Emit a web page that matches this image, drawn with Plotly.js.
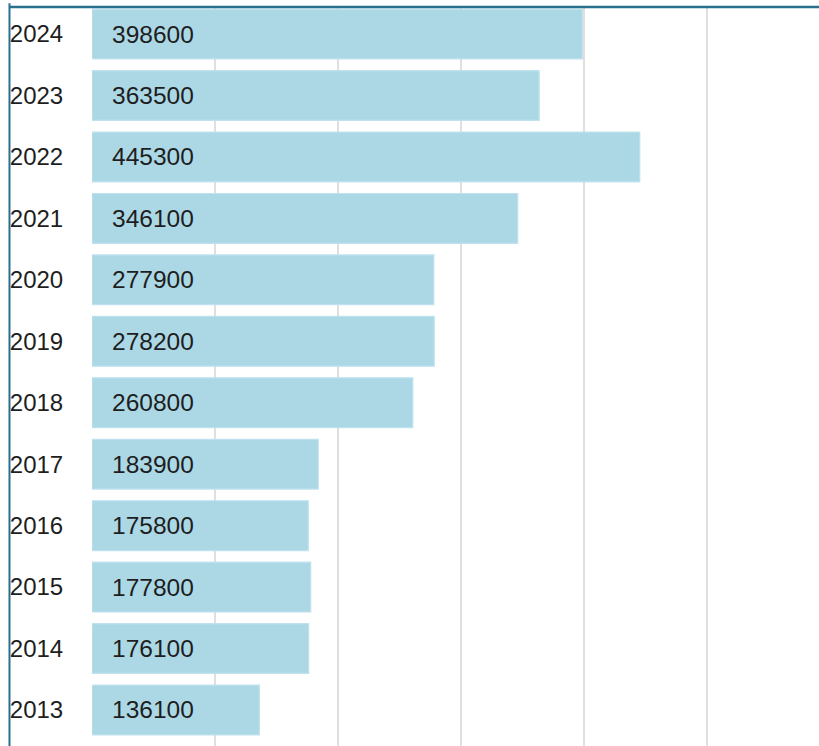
<!DOCTYPE html>
<html>
<head>
<meta charset="utf-8">
<script src="https://cdn.plot.ly/plotly-3.0.1.min.js"></script>
<style>
html,body{margin:0;padding:0;background:#fff;overflow:hidden;}
#chart{width:819px;height:746px;}
</style>
</head>
<body>
<div id="chart"></div>
<script>
const years = ['2013','2014','2015','2016','2017','2018','2019','2020','2021','2022','2023','2024'];
const values = [136100,176100,177800,175800,183900,260800,278200,277900,346100,445300,363500,398600];
const xTicks = [0,100000,200000,300000,400000,500000,600000];

const trace = {
  type: 'bar',
  orientation: 'h',
  y: years,
  x: values,
  marker: {color: '#acd8e6', line: {color: '#bfe2ee', width: 1.2}},
  hoverinfo: 'none'
};

const annotations = years.map((yr, i) => ({
  x: 0, y: i, xref: 'x', yref: 'y',
  text: String(values[i]),
  showarrow: false,
  xanchor: 'left',
  xshift: 18,
  font: {family: 'Liberation Sans, Arial, sans-serif', size: 24.5, color: '#1e1e1e'}
}));

const layout = {
  width: 819, height: 746,
  margin: {l: 92, r: 0, t: 7, b: 0},
  paper_bgcolor: '#fff',
  plot_bgcolor: '#fff',
  showlegend: false,
  bargap: 0.19,
  xaxis: {
    range: [0, 591000],
    tickvals: xTicks,
    showticklabels: false,
    showgrid: true,
    gridcolor: '#dfdfdf',
    gridwidth: 2.5,
    zeroline: false,
    showline: false,
    fixedrange: true
  },
  yaxis: {
    type: 'category',
    categoryorder: 'array',
    categoryarray: years,
    range: [-0.586, 11.44],
    showgrid: false,
    zeroline: false,
    showline: false,
    ticks: 'outside',
    ticklen: 23,
    tickcolor: 'rgba(0,0,0,0)',
    tickfont: {family: 'Liberation Sans, Arial, sans-serif', size: 24, color: '#1e1e1e'},
    fixedrange: true
  },
  annotations: annotations,
  shapes: [
    {type: 'line', xref: 'paper', yref: 'paper', x0: -0.114, x1: 1.01, y0: 1, y1: 1,
     line: {color: '#2b6f8f', width: 2.5}},
    {type: 'line', xref: 'paper', yref: 'paper', x0: -0.1135, x1: -0.1135, y0: 1.005, y1: -0.02,
     line: {color: '#2b6f8f', width: 2}}
  ]
};

Plotly.newPlot('chart', [trace], layout, {displayModeBar: false, staticPlot: true});
</script>
</body>
</html>
